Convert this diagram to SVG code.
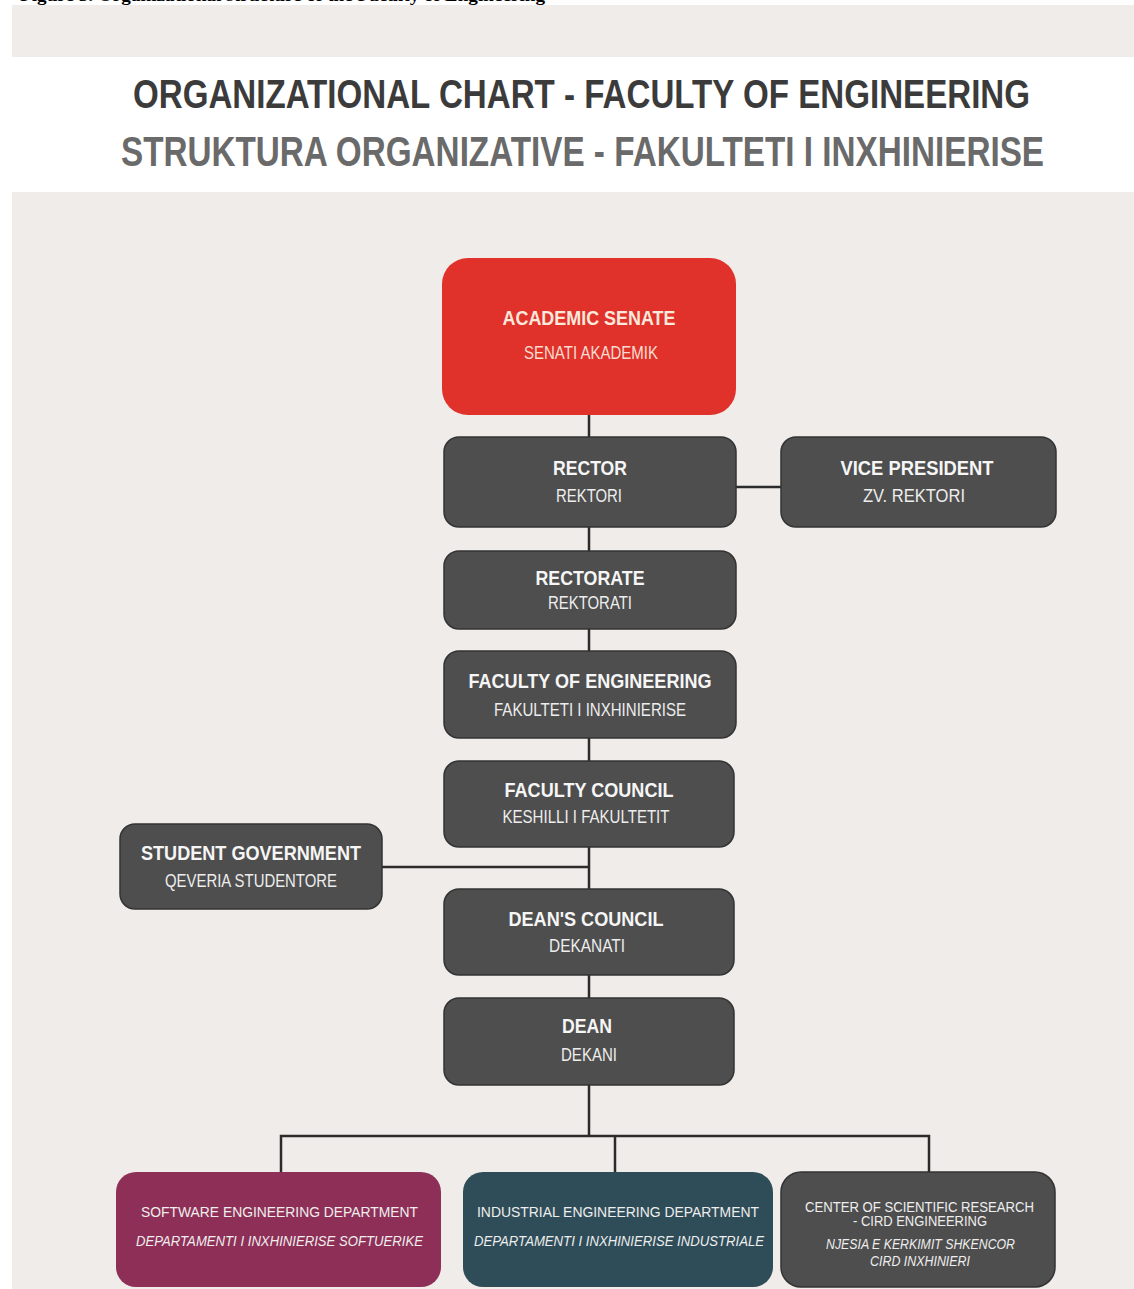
<svg xmlns="http://www.w3.org/2000/svg" width="1134" height="1289" viewBox="0 0 1134 1289">
<style>
.bg{fill:#f0ece9}
.box{fill:#4e4e4e;stroke:#333;stroke-width:1.5}
.t1{font-family:"Liberation Sans",Arial,sans-serif;font-weight:bold;font-size:20px;fill:#f6f6f6;text-anchor:middle}
.t2{font-family:"Liberation Sans",Arial,sans-serif;font-size:19px;fill:#ededed;text-anchor:middle}
.d1{font-family:"Liberation Sans",Arial,sans-serif;font-size:14px;fill:#eeeeee;text-anchor:middle}
.d2{font-family:"Liberation Sans",Arial,sans-serif;font-style:italic;font-size:14px;fill:#eeeeee;text-anchor:middle}
.ln{stroke:#2b2b2b;stroke-width:2.5;fill:none}
.h{font-family:"Liberation Sans",Arial,sans-serif;font-weight:bold;text-anchor:middle}
</style>
<rect x="0" y="0" width="1134" height="1289" fill="#ffffff"/>
<text x="20" y="1" font-family="Liberation Serif,serif" font-weight="bold" font-size="16" textLength="525" lengthAdjust="spacingAndGlyphs" fill="#000">Figure 3. Organizational structure of the Faculty of Engineering</text>
<rect class="bg" x="12" y="5" width="1122" height="52"/>
<rect class="bg" x="12" y="192" width="1122" height="1097"/>
<text class="h" x="581.5" y="108" font-size="41" fill="#3b3b3b" textLength="897" lengthAdjust="spacingAndGlyphs">ORGANIZATIONAL CHART - FACULTY OF ENGINEERING</text>
<text class="h" x="582.5" y="166" font-size="43" fill="#6a6a6a" textLength="923" lengthAdjust="spacingAndGlyphs">STRUKTURA ORGANIZATIVE - FAKULTETI I INXHINIERISE</text>

<g id="connectors">
<line class="ln" x1="589" y1="415" x2="589" y2="1136"/>
<line class="ln" x1="736" y1="487" x2="781" y2="487"/>
<line class="ln" x1="382" y1="867" x2="589" y2="867"/>
<polyline class="ln" points="281,1172 281,1136 929,1136 929,1172"/>
<line class="ln" x1="615" y1="1136" x2="615" y2="1172"/>
</g>

<g id="academic-senate">
<rect x="442" y="258" width="294" height="157" rx="26" fill="#e1312b"/>
<text class="t1" x="589" y="325" textLength="173" lengthAdjust="spacingAndGlyphs" style="fill:#f9e8dc">ACADEMIC SENATE</text>
<text class="t2" x="591" y="359" textLength="134" lengthAdjust="spacingAndGlyphs" style="fill:#f6ddd0">SENATI AKADEMIK</text>
</g>
<g id="rector">
<rect class="box" x="444" y="437" width="292" height="90" rx="15"/>
<text class="t1" x="590" y="475" textLength="74" lengthAdjust="spacingAndGlyphs">RECTOR</text>
<text class="t2" x="589" y="502" textLength="66" lengthAdjust="spacingAndGlyphs">REKTORI</text>
</g>
<g id="vice-president">
<rect class="box" x="781" y="437" width="275" height="90" rx="15"/>
<text class="t1" x="917" y="475" textLength="153" lengthAdjust="spacingAndGlyphs">VICE PRESIDENT</text>
<text class="t2" x="914" y="502" textLength="102" lengthAdjust="spacingAndGlyphs">ZV. REKTORI</text>
</g>
<g id="rectorate">
<rect class="box" x="444" y="551" width="292" height="78" rx="15"/>
<text class="t1" x="590" y="585" textLength="109" lengthAdjust="spacingAndGlyphs">RECTORATE</text>
<text class="t2" x="590" y="609" textLength="84" lengthAdjust="spacingAndGlyphs">REKTORATI</text>
</g>
<g id="faculty-of-engineering">
<rect class="box" x="444" y="651" width="292" height="87" rx="15"/>
<text class="t1" x="590" y="688" textLength="243" lengthAdjust="spacingAndGlyphs">FACULTY OF ENGINEERING</text>
<text class="t2" x="590" y="716" textLength="192" lengthAdjust="spacingAndGlyphs">FAKULTETI I INXHINIERISE</text>
</g>
<g id="faculty-council">
<rect class="box" x="444" y="761" width="290" height="86" rx="15"/>
<text class="t1" x="589" y="797" textLength="169" lengthAdjust="spacingAndGlyphs">FACULTY COUNCIL</text>
<text class="t2" x="586" y="823" textLength="167" lengthAdjust="spacingAndGlyphs">KESHILLI I FAKULTETIT</text>
</g>
<g id="student-government">
<rect class="box" x="120" y="824" width="262" height="85" rx="15"/>
<text class="t1" x="251" y="860" textLength="220" lengthAdjust="spacingAndGlyphs">STUDENT GOVERNMENT</text>
<text class="t2" x="251" y="887" textLength="172" lengthAdjust="spacingAndGlyphs">QEVERIA STUDENTORE</text>
</g>
<g id="deans-council">
<rect class="box" x="444" y="889" width="290" height="86" rx="15"/>
<text class="t1" x="586" y="926" textLength="155" lengthAdjust="spacingAndGlyphs">DEAN'S COUNCIL</text>
<text class="t2" x="587" y="952" textLength="76" lengthAdjust="spacingAndGlyphs">DEKANATI</text>
</g>
<g id="dean">
<rect class="box" x="444" y="998" width="290" height="87" rx="15"/>
<text class="t1" x="587" y="1033" textLength="50" lengthAdjust="spacingAndGlyphs">DEAN</text>
<text class="t2" x="589" y="1061" textLength="56" lengthAdjust="spacingAndGlyphs">DEKANI</text>
</g>
<g id="software-engineering-department">
<rect x="116" y="1172" width="325" height="115" rx="20" fill="#8e2f57"/>
<text class="d1" x="279.5" y="1217" textLength="277" lengthAdjust="spacingAndGlyphs">SOFTWARE ENGINEERING DEPARTMENT</text>
<text class="d2" x="279.5" y="1246" textLength="287" lengthAdjust="spacingAndGlyphs">DEPARTAMENTI I INXHINIERISE SOFTUERIKE</text>
</g>
<g id="industrial-engineering-department">
<rect x="463" y="1172" width="310" height="115" rx="20" fill="#2f4d58"/>
<text class="d1" x="618" y="1217" textLength="282" lengthAdjust="spacingAndGlyphs">INDUSTRIAL ENGINEERING DEPARTMENT</text>
<text class="d2" x="619" y="1246" textLength="290" lengthAdjust="spacingAndGlyphs">DEPARTAMENTI I INXHINIERISE INDUSTRIALE</text>
</g>
<g id="cird">
<rect class="box" x="781" y="1172" width="274" height="115" rx="20"/>
<text class="d1" x="919.5" y="1212" textLength="229" lengthAdjust="spacingAndGlyphs">CENTER OF SCIENTIFIC RESEARCH</text>
<text class="d1" x="920" y="1226" textLength="134" lengthAdjust="spacingAndGlyphs">- CIRD ENGINEERING</text>
<text class="d2" x="920.5" y="1249" textLength="189" lengthAdjust="spacingAndGlyphs">NJESIA E KERKIMIT SHKENCOR</text>
<text class="d2" x="920" y="1266" textLength="100" lengthAdjust="spacingAndGlyphs">CIRD INXHINIERI</text>
</g>
</svg>
